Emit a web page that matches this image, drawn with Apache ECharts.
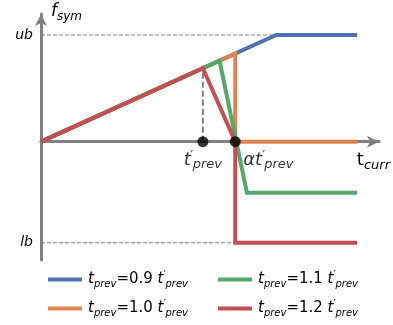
<!DOCTYPE html>
<html><head><meta charset="utf-8">
<script src="https://cdn.jsdelivr.net/npm/echarts@6/dist/echarts.min.js"></script>
<style>html,body{margin:0;padding:0;background:#fff}#c{width:393px;height:325px}</style>
</head><body><div id="c"></div>
<script>
// ---- data (x in units of t'_prev, y in units of ub) ----
const seriesNames = ['0.9', '1.0', '1.1', '1.2'];
const blueData   = [[0, 0], [1.453, 1], [1.953, 1]];
const orangeData = [[0, 0], [1.2, 0.826], [1.2, 0], [1.953, 0]];
const greenData  = [[0, 0], [1.103, 0.759], [1.272, -0.478], [1.953, -0.478]];
const redData    = [[0, 0], [1, 0.688], [1.2, 0], [1.2, -0.947], [1.953, -0.947]];
const ubGuide    = [[0, 1], [1.453, 1]];
const lbGuide    = [[0, -0.947], [1.2, -0.947]];
const tPrevGuide = [[1, 0], [1, 0.688]];
const markPoints = [[1, 0], [1.2, 0]];
const boundValues = [-0.947, 1];
const boundLabels = ['lb', 'ub'];

const colors = ['#4c72b0', '#dd8452', '#55a868', '#c44e52'];
const FONT = 'DejaVu Sans';
const gray = '#808080';

const mathRich = function (big, small) {
  return {
    t:   { fontFamily: FONT, fontStyle: 'italic', fontSize: big, color: '#000', lineHeight: big + 4 },
    n:   { fontFamily: FONT, fontSize: big, color: '#000', lineHeight: big + 4 },
    pr:  { fontFamily: FONT, fontSize: small, color: '#000', verticalAlign: 'top', lineHeight: small, width: 2 },
    sub: { fontFamily: FONT, fontStyle: 'italic', fontSize: small, color: '#000', verticalAlign: 'bottom', lineHeight: small + 1 }
  };
};

const lineSeries = function (name, data, color) {
  return {
    name: name, type: 'line', data: data, symbol: 'none', color: color,
    itemStyle: { color: color },
    lineStyle: { color: color, width: 4, join: 'miter' },
    animation: false, z: 3
  };
};
const guide = function (data, width, dash) {
  return {
    type: 'line', data: data, symbol: 'none', silent: true, animation: false, z: 2,
    lineStyle: { color: gray, width: width, type: dash }
  };
};
const legendItem = function (name, left, top) {
  return {
    data: [name], left: left, top: top,
    icon: 'rect', itemWidth: 34, itemHeight: 4,
    formatter: function (n) { return '{t|t}{sub|prev}{n|=' + n + ' }{t|t}{pr|′}{sub|prev}'; },
    textStyle: { padding: [0, 0, 0, 1], rich: mathRich(15, 10) }
  };
};

const chart = echarts.init(document.getElementById('c'), null, { renderer: 'canvas' });
chart.setOption({
  animation: false,
  grid: { left: 41, right: 12, top: 14, bottom: 65, containLabel: false },
  xAxis: {
    type: 'value', min: 0, max: 2.088,
    axisLine: { onZero: true, lineStyle: { color: gray, width: 3 }, symbol: ['none', 'arrow'], symbolSize: [9, 12] },
    axisTick: { show: false }, axisLabel: { show: false }, splitLine: { show: false },
    name: '{n|t}{sub|curr}', nameLocation: 'end', nameGap: 11,
    nameTextStyle: { align: 'right', verticalAlign: 'top', padding: [8, 0, 0, 0], rich: mathRich(18, 13) }
  },
  yAxis: {
    type: 'value', min: -1.109, max: 1.197,
    axisLine: { onZero: false, lineStyle: { color: gray, width: 3 }, symbol: ['none', 'arrow'], symbolSize: [9, 12] },
    axisTick: { show: false }, splitLine: { show: false },
    axisLabel: {
      customValues: boundValues, margin: 8,
      fontFamily: FONT, fontStyle: 'italic', fontSize: 14, color: '#000',
      formatter: function (v) { const i = boundValues.indexOf(v); return i >= 0 ? boundLabels[i] : ''; }
    },
    name: '{t|f}{sub|sym}', nameLocation: 'end', nameGap: 2,
    nameTextStyle: { align: 'left', verticalAlign: 'middle', padding: [0, 0, 0, 10], rich: mathRich(17, 12) }
  },
  legend: [
    legendItem(seriesNames[0], 43, 265),
    legendItem(seriesNames[1], 43, 294),
    legendItem(seriesNames[2], 213, 265),
    legendItem(seriesNames[3], 213, 294)
  ],
  series: [
    guide(ubGuide, 1, [4, 2]),
    guide(lbGuide, 1, [4, 2]),
    guide(tPrevGuide, 2, [6, 3]),
    lineSeries(seriesNames[0], blueData, colors[0]),
    lineSeries(seriesNames[1], orangeData, colors[1]),
    lineSeries(seriesNames[2], greenData, colors[2]),
    lineSeries(seriesNames[3], redData, colors[3]),
    {
      type: 'scatter', symbolSize: 11, itemStyle: { color: '#000' }, z: 5, animation: false, silent: true,
      data: [
        { value: markPoints[0], label: { show: true, position: 'bottom', distance: 2,
          formatter: '{t|t}{pr|′}{sub|prev}', rich: mathRich(18, 13) } },
        { value: markPoints[1], label: { show: true, position: 'bottom', distance: 2, align: 'left', offset: [8, 0],
          formatter: '{t|αt}{pr|′}{sub|prev}', rich: mathRich(18, 13) } }
      ]
    }
  ]
});
</script></body></html>
